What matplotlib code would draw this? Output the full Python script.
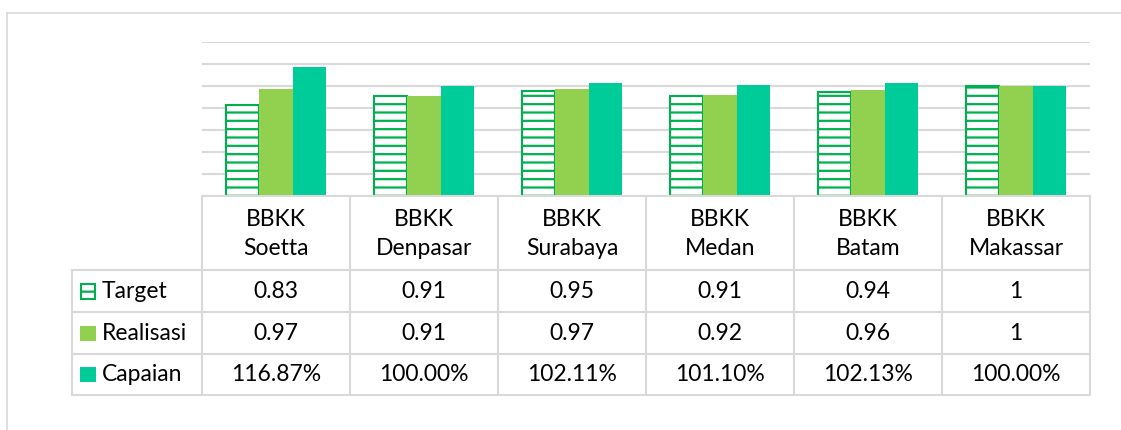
import numpy as np
import matplotlib
matplotlib.use("Agg")
import matplotlib.pyplot as plt
from matplotlib.lines import Line2D
from matplotlib.patches import Rectangle

# ----- DATA -----
categories = ["BBKK\nSoetta", "BBKK\nDenpasar", "BBKK\nSurabaya",
              "BBKK\nMedan", "BBKK\nBatam", "BBKK\nMakassar"]
series_names = ["Target", "Realisasi", "Capaian"]
target = [0.83, 0.91, 0.95, 0.91, 0.94, 1]
realisasi = [0.97, 0.91, 0.97, 0.92, 0.96, 1]
capaian = [116.87, 100.00, 102.11, 101.10, 102.13, 100.00]  # percent

# ----- STYLE -----
TARGET_EDGE = "#00B050"
REAL_COLOR = "#92D050"
CAP_COLOR = "#00CC99"
GRID = "#D9D9D9"
FS = 16.5

plt.rcParams['font.family'] = ['Lato', 'DejaVu Sans']
plt.rcParams['hatch.linewidth'] = 1.6

W, H = 1121, 430
fig = plt.figure(figsize=(W / 100, H / 100), dpi=100)


def fx(px):
    return px / W


def fy(py):
    return 1 - py / H


# ----- BARS -----
ax = fig.add_axes([fx(202), fy(196), fx(1090) - fx(202), fy(41.7) - fy(196)])
x = np.arange(len(categories))
bw = 0.223
ax.bar(x - bw, target, bw, facecolor="white", edgecolor=TARGET_EDGE,
       hatch="--", linewidth=1.5, zorder=3)
ax.bar(x, realisasi, bw, color=REAL_COLOR, zorder=3)
ax.bar(x + bw, np.array(capaian) / 100, bw, color=CAP_COLOR, zorder=3)
ax.set_xlim(-0.5, len(categories) - 0.5)
ax.set_ylim(0, 1.4)
ax.set_yticks(np.arange(0, 1.41, 0.2))
ax.yaxis.grid(True, color=GRID, lw=1.5)
ax.set_axisbelow(True)
ax.tick_params(left=False, labelleft=False, bottom=False, labelbottom=False)
for s in ax.spines.values():
    s.set_visible(False)

# ----- DATA TABLE -----
tx0, tx1, ty0, ty1 = 72, 1090, 196, 395
tax = fig.add_axes([fx(tx0), fy(ty1), fx(tx1) - fx(tx0), fy(ty0) - fy(ty1)])
tax.set_xlim(tx0, tx1)
tax.set_ylim(ty1, ty0)
tax.axis("off")

col_left = 202
col_w = (tx1 - col_left) / len(categories)
rows = [196, 270, 312, 354, 395]
lc = dict(color=GRID, lw=1.5, clip_on=False)

# horizontal lines
tax.plot([col_left, tx1], [rows[0], rows[0]], **lc)
for r in rows[1:]:
    tax.plot([tx0, tx1], [r, r], **lc)
# vertical lines
for i in range(len(categories) + 1):
    xc = col_left + i * col_w
    tax.plot([xc, xc], [rows[0], rows[-1]], **lc)
tax.plot([tx0, tx0], [rows[1], rows[-1]], **lc)

# header text
for i, c in enumerate(categories):
    tax.text(col_left + (i + 0.5) * col_w, (rows[0] + rows[1]) / 2 + 1, c,
             ha="center", va="center", fontsize=FS, linespacing=1.5)

row_vals = [
    [f"{v:g}" for v in target],
    [f"{v:g}" for v in realisasi],
    [f"{v:.2f}%" for v in capaian],
]
for r, vals in enumerate(row_vals):
    yc = (rows[r + 1] + rows[r + 2]) / 2
    for i, v in enumerate(vals):
        tax.text(col_left + (i + 0.5) * col_w, yc, v,
                 ha="center", va="center", fontsize=FS)
    # legend key + name
    if r == 0:
        key = Rectangle((81, yc - 7.5), 14, 15, facecolor="white",
                        edgecolor=TARGET_EDGE, hatch="-", lw=1.5, clip_on=False)
    else:
        key = Rectangle((80, yc - 7.5), 16, 15,
                        facecolor=[REAL_COLOR, CAP_COLOR][r - 1],
                        edgecolor="none", clip_on=False)
    tax.add_patch(key)
    tax.text(102, yc, series_names[r], ha="left", va="center", fontsize=FS)

# ----- OUTER FRAME -----
fig.add_artist(Line2D([fx(7), 1], [fy(13), fy(13)], transform=fig.transFigure,
                      color=GRID, lw=1.2))
fig.add_artist(Line2D([fx(7), fx(7)], [fy(13), 0], transform=fig.transFigure,
                      color=GRID, lw=1.2))

fig.savefig("out.png", dpi=100)
